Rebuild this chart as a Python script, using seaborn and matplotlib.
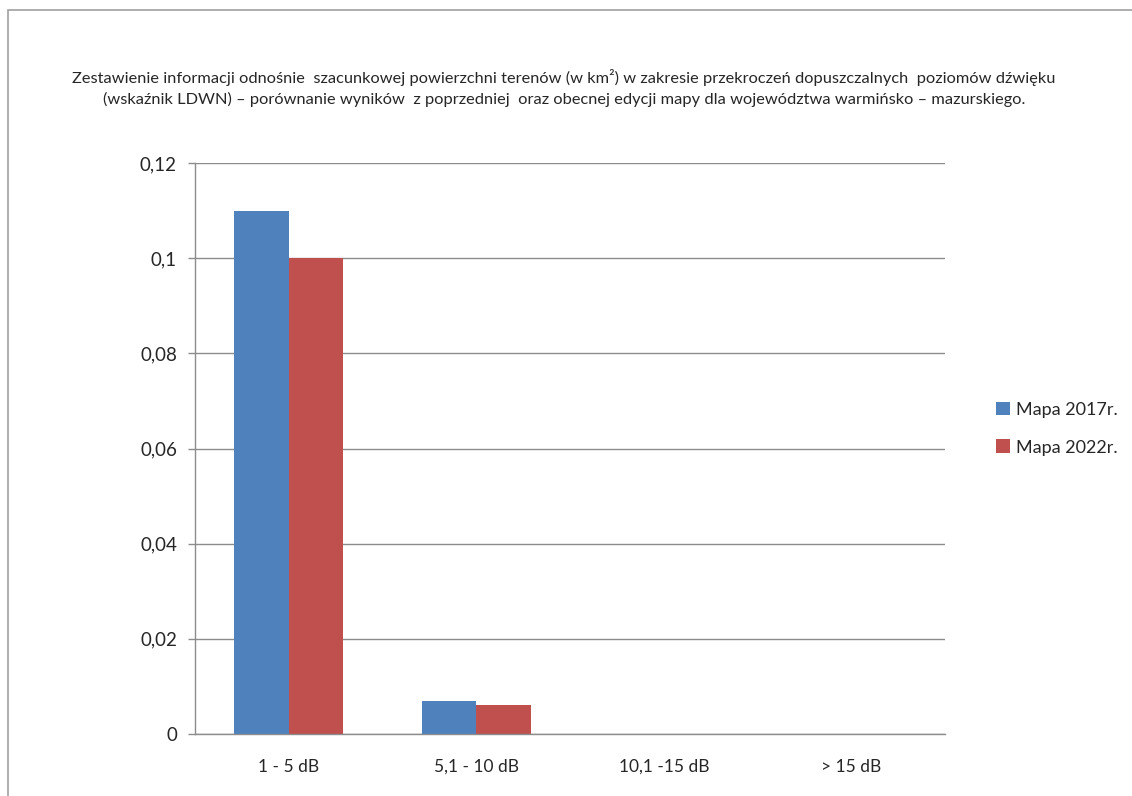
import pandas as pd
import numpy as np
import seaborn as sns
import matplotlib.pyplot as plt
from matplotlib.patches import Rectangle

# data
categories = ["1 - 5 dB", "5,1 - 10 dB", "10,1 -15 dB", "> 15 dB"]
mapa_2017 = [0.11, 0.007, 0.0, 0.0]
mapa_2022 = [0.10, 0.006, 0.0, 0.0]
series_names = ["Mapa 2017r.", "Mapa 2022r."]
y_ticks = [0, 0.02, 0.04, 0.06, 0.08, 0.1, 0.12]
y_tick_labels = ["0", "0,02", "0,04", "0,06", "0,08", "0,1", "0,12"]
title = ("Zestawienie informacji odnośnie  szacunkowej powierzchni terenów (w km²) w zakresie przekroczeń dopuszczalnych  poziomów dźwięku\n"
         "(wskaźnik LDWN) – porównanie wyników  z poprzedniej  oraz obecnej edycji mapy dla województwa warmińsko – mazurskiego.")

df = pd.DataFrame({
    "kategoria": categories * 2,
    "wartosc": mapa_2017 + mapa_2022,
    "seria": [series_names[0]] * 4 + [series_names[1]] * 4,
})

sns.set_style("white")
plt.rcParams["font.family"] = ["Lato", "DejaVu Sans"]

fig = plt.figure(figsize=(11.32, 7.96), dpi=100)
ax = fig.add_axes([0.1723, 0.0779, 0.6625, 0.7173])

# outer chart frame (cut off on right and bottom like the screenshot)
fig.patches.append(Rectangle((8 / 1132, -0.1), 1.2, 1 - 10 / 796 + 0.1,
                             transform=fig.transFigure, fill=False,
                             edgecolor="#a0a0a0", linewidth=1.2))

sns.barplot(data=df, x="kategoria", y="wartosc", hue="seria",
            palette=["#4F81BD", "#C0504D"], width=0.58, saturation=1,
            linewidth=0, ax=ax, legend=True)

ax.set_ylim(0, 0.12)
ax.set_xlim(-0.5, 3.5)
ax.set_yticks(y_ticks)
ax.set_yticklabels(y_tick_labels, fontsize=13.5)
ax.yaxis.grid(True, color="#8c8c8c", linewidth=1)
ax.set_axisbelow(True)
ax.set_xlabel("")
ax.set_ylabel("")

# category labels centred, tick marks at category boundaries
ax.set_xticks(range(len(categories)))
ax.set_xticklabels(categories, fontsize=12.5)
ax.tick_params(axis="x", which="major", length=0, pad=18)
ax.set_xticks(np.arange(-0.5, 4, 1), minor=True)
ax.tick_params(axis="x", which="minor", length=8, color="#8c8c8c", width=1)
ax.tick_params(axis="y", left=True, length=5, color="#8c8c8c", width=1, pad=8)

for s in ["top", "right"]:
    ax.spines[s].set_visible(False)
for s in ["left", "bottom"]:
    ax.spines[s].set_color("#8c8c8c")
    ax.spines[s].set_linewidth(1)

ax.legend(loc="center left", bbox_to_anchor=(1.068, 0.535), frameon=False,
          fontsize=13, handlelength=0.8, handleheight=0.8, handletextpad=0.3,
          labelspacing=1.2, borderaxespad=0, borderpad=0)

fig.text(0.498, 0.889, title, ha="center", va="center", fontsize=11.8,
         linespacing=1.5)

fig.savefig("out.png", dpi=100)
